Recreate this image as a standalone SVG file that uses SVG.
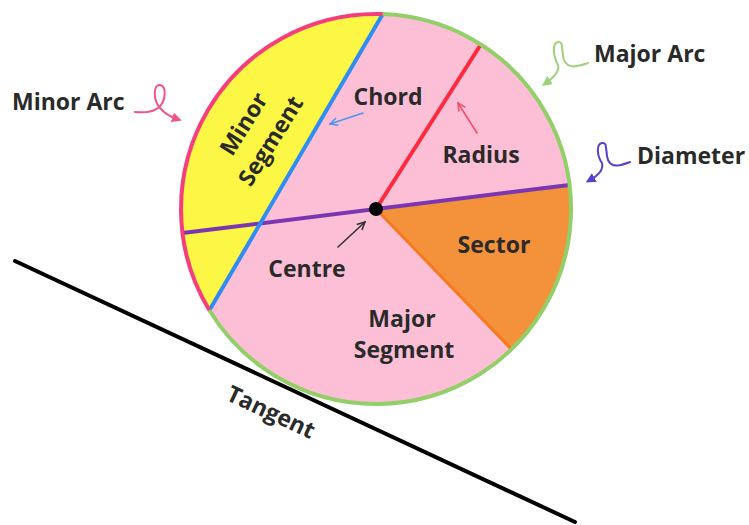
<svg xmlns="http://www.w3.org/2000/svg" width="749" height="525" viewBox="0 0 749 525">
<defs>
<style>
.lbl{font-family:"Open Sans","Liberation Sans",sans-serif;font-weight:700;font-size:23px;fill:#2a2a2a}
.thin{fill:none;stroke-width:1.6;stroke-linecap:round;stroke-linejoin:round}
.curl{fill:none;stroke-width:2;stroke-linecap:round;stroke-linejoin:round}
</style>
<marker id="hPink" viewBox="0 0 10 10" refX="5" refY="5" markerWidth="5" markerHeight="5" orient="auto"><path d="M0,0 L10,5 L0,10 Z" fill="#f2538a"/></marker>
<marker id="hGreen" viewBox="0 0 10 10" refX="5" refY="5" markerWidth="5" markerHeight="5" orient="auto"><path d="M0,0 L10,5 L0,10 Z" fill="#9ed17a"/></marker>
<marker id="hPurple" viewBox="0 0 10 10" refX="5" refY="5" markerWidth="5" markerHeight="5" orient="auto"><path d="M0,0 L10,5 L0,10 Z" fill="#5a3fcf"/></marker>
<marker id="oBlue" viewBox="0 0 10 10" refX="9" refY="5" markerWidth="6" markerHeight="6" orient="auto"><path d="M1,1 L9,5 L1,9" fill="none" stroke="#4f94f0" stroke-width="1.6"/></marker>
<marker id="oRed" viewBox="0 0 10 10" refX="9" refY="5" markerWidth="6" markerHeight="6" orient="auto"><path d="M1,1 L9,5 L1,9" fill="none" stroke="#f5506a" stroke-width="1.6"/></marker>
<marker id="oDark" viewBox="0 0 10 10" refX="9" refY="5" markerWidth="6" markerHeight="6" orient="auto"><path d="M1,1 L9,5 L1,9" fill="none" stroke="#333" stroke-width="1.6"/></marker>
</defs>
<rect width="749" height="525" fill="#ffffff"/>

<g id="tangent">
<line x1="15" y1="261" x2="575" y2="522" stroke="#000" stroke-width="4" stroke-linecap="round"/>
</g>

<g id="circle">
<circle cx="376" cy="209" r="195" fill="#fdbfd6"/>
<path id="minor-segment" d="M382.8,14.1 A195,195 0 0 0 209.4,310.3 Z" fill="#fcf744"/>
<path id="sector" d="M376,209 L569.5,184.9 A195,195 0 0 1 511.5,349.3 Z" fill="#f4913b"/>
<line x1="376" y1="209" x2="511.5" y2="349.3" stroke="#f57a22" stroke-width="3"/>
<line id="diameter" x1="182.5" y1="233.1" x2="569.5" y2="184.9" stroke="#7b36b2" stroke-width="4"/>
<line id="radius" x1="376" y1="209" x2="480.8" y2="44.5" stroke="#fc2a3c" stroke-width="4"/>
<line id="chord" x1="382.8" y1="14.1" x2="209.4" y2="310.3" stroke="#2f8cf2" stroke-width="4"/>
<path id="minor-arc" d="M382.8,14.1 A195,195 0 0 0 209.4,310.3" fill="none" stroke="#f53f7c" stroke-width="4"/>
<path id="major-arc" d="M209.4,310.3 A195,195 0 1 0 382.8,14.1" fill="none" stroke="#93cf68" stroke-width="4"/>
<circle id="centre" cx="376" cy="209" r="7" fill="#000"/>
</g>

<g id="connectors">
<path class="curl" stroke="#f2538a" marker-end="url(#hPink)" d="M135,112 C145,113 153,112 158,108 C166,102 167,86 160,85 C153,84 153,100 160,108 C165,114 171,117 177,119"/>
<path class="curl" stroke="#9ed17a" marker-end="url(#hGreen)" d="M588,63 C579,66 568,70 564,60 C561,51 564,41 558,42 C552,43 553,56 558,65 C560,72 553,78 546,83"/>
<path class="curl" stroke="#5a3fcf" marker-end="url(#hPurple)" d="M630,162 C622,165 612,169 608,160 C605,151 608,142 602,143 C596,144 597,156 602,163 C604,170 597,176 590,180"/>
<line class="thin" stroke="#4f94f0" marker-end="url(#oBlue)" x1="363" y1="113" x2="330" y2="124"/>
<line class="thin" stroke="#f5506a" marker-end="url(#oRed)" x1="477" y1="133" x2="458" y2="103"/>
<line class="thin" stroke="#333" marker-end="url(#oDark)" x1="338" y1="247" x2="365" y2="222"/>
</g>

<g id="labels">
<text class="lbl" x="12" y="110">Minor Arc</text>
<text class="lbl" x="594" y="62">Major Arc</text>
<text class="lbl" x="637" y="164">Diameter</text>
<text class="lbl" x="388" y="105" text-anchor="middle">Chord</text>
<text class="lbl" x="481" y="163" text-anchor="middle">Radius</text>
<text class="lbl" x="494" y="253" text-anchor="middle">Sector</text>
<text class="lbl" x="307" y="277" text-anchor="middle">Centre</text>
<text class="lbl" x="402" y="327" text-anchor="middle">Major</text>
<text class="lbl" x="404" y="358" text-anchor="middle">Segment</text>
<g transform="translate(258,133) rotate(-58)">
<text class="lbl" x="0" y="-9" text-anchor="middle">Minor</text>
<text class="lbl" x="0" y="23" text-anchor="middle">Segment</text>
</g>
<text class="lbl" transform="translate(271,412) rotate(25)" x="0" y="8" text-anchor="middle" font-size="22">Tangent</text>
</g>
</svg>
